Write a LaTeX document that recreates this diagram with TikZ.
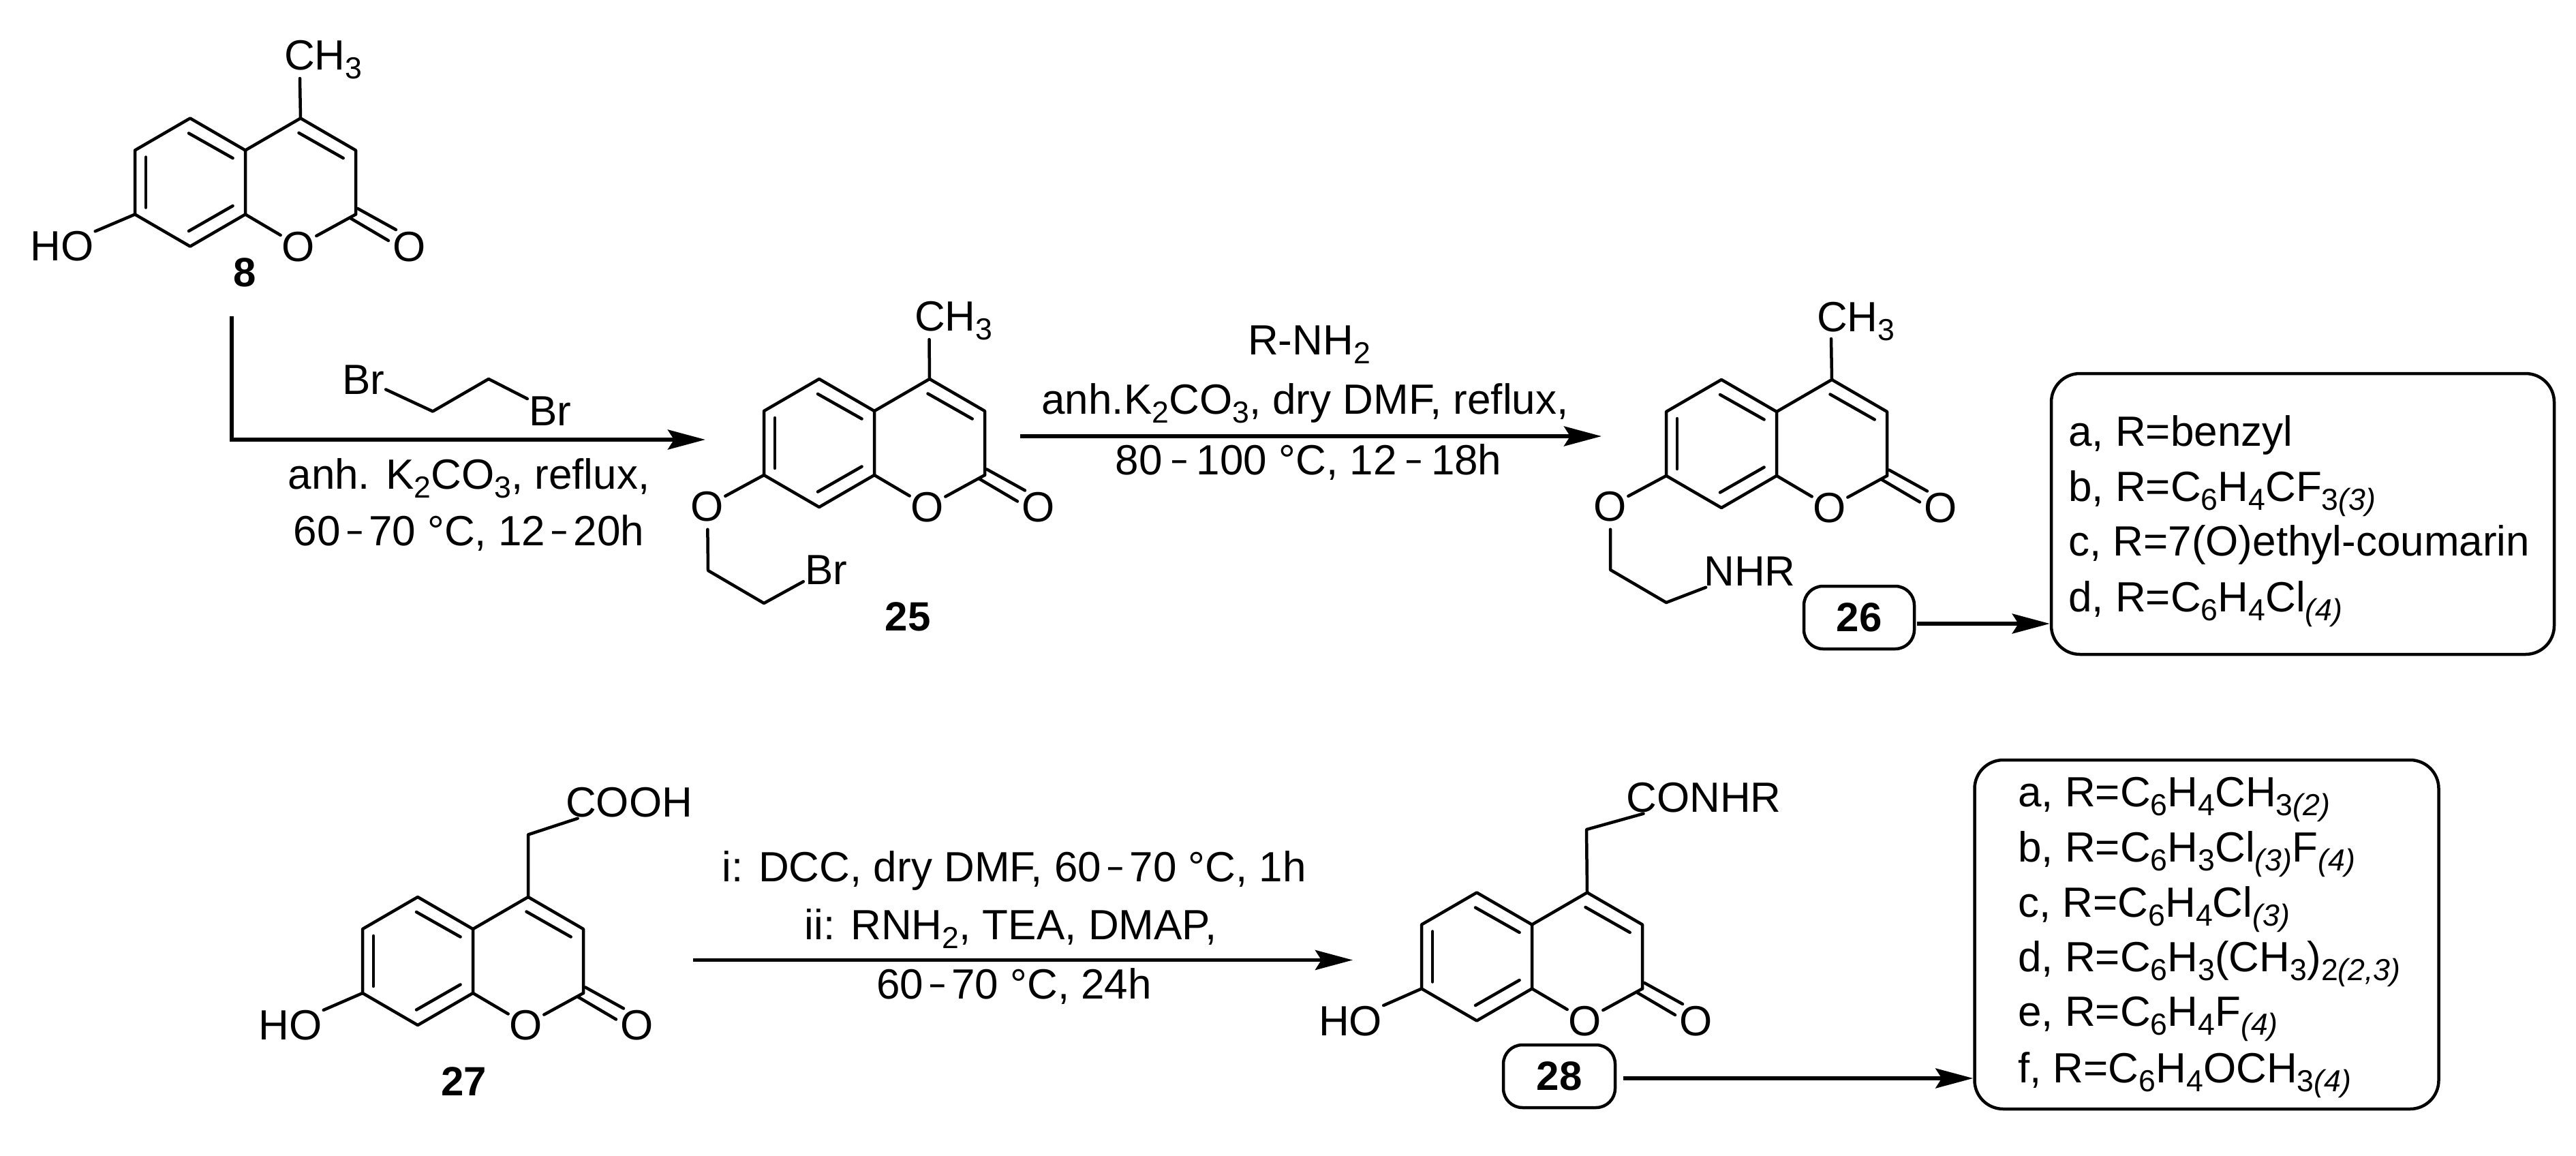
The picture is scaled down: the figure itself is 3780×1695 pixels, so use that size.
\documentclass[tikz,border=0pt]{standalone}
\usepackage{fontspec}
\setmainfont{Liberation Sans}
\usetikzlibrary{arrows.meta,calc}
\newcommand{\sbs}[1]{\raisebox{-.22em}{\scalebox{.72}{#1}}}
\newcommand{\dsh}{\,\raisebox{.04em}{\scalebox{.6}[1]{–}}\,}
\newcommand{\wdsh}{\hspace{.24em}\raisebox{.04em}{\scalebox{.6}[1]{–}}\hspace{.24em}}
\newcommand{\coumarin}[3]{%
 \begin{scope}[shift={(#2,#3)}]
  \coordinate (#1-C5) at (81,0);
  \coordinate (#1-C6) at (0,47);
  \coordinate (#1-C4a) at (162,47);
  \coordinate (#1-C7) at (0,141);
  \coordinate (#1-C8) at (81,188);
  \coordinate (#1-C8a) at (162,141);
  \coordinate (#1-C4) at (243,0);
  \coordinate (#1-C3) at (324,47);
  \coordinate (#1-C2) at (324,141);
  \node[atom] (#1-O1) at (240,187) {O};
  \node[atom] (#1-Oc) at (403,187) {O};
  \draw[bond] (#1-C5) -- (#1-C6) -- (#1-C7) -- (#1-C8) -- (#1-C8a) -- (#1-C4a) -- cycle;
  \draw[bond] (#1-C4a) -- (#1-C4) -- (#1-C3) -- (#1-C2);
  \draw[bond] (#1-C8a) -- (#1-O1) -- (#1-C2);
  \draw[bond] (79,22) -- (143.6,58.5);
  \draw[bond] (16,57) -- (16,131);
  \draw[bond] (79,165.5) -- (143.6,128.5);
  \draw[bond] (240.5,21.5) -- (305.7,58.5);
  \draw[bond] (327,132.5) -- (383,163.5);
  \draw[bond] (316,146.5) -- (372,179.5);
 \end{scope}}
\tikzset{
 bond/.style={line width=4.5pt,line cap=round,line join=round,black},
 arr/.style={line width=5.5pt,black,-{Stealth[length=55pt,width=29pt,inset=9pt]}},
 atom/.style={font=\fontsize{62}{62}\selectfont,inner sep=2pt,text height=45pt,text depth=0pt},
 lbl/.style={font=\fontsize{62}{62}\selectfont,inner sep=0pt,anchor=base west},
 rgt/.style={font=\fontsize{62}{62}\selectfont,inner sep=0pt,anchor=base},
 num/.style={font=\bfseries\fontsize{60}{60}\selectfont,inner sep=0pt,anchor=center},
 listbox/.style={draw,line width=4.5pt,rounded corners=42pt,inner sep=0pt},
 numbox/.style={draw,line width=4.5pt,rounded corners=28pt,inner sep=0pt,font=\bfseries\fontsize{60}{60}\selectfont},
}
\begin{document}
\begin{tikzpicture}[x=1pt,y=-1pt]
\useasboundingbox (0,0) rectangle (3780,1695);
% 8
\coumarin{m8}{198}{173.5}
\node[lbl] (m8-Me) at (417,102) {CH\sbs{3}};
\coordinate (m8-t) at (440,115);
\draw[bond] (m8-C4) -- (m8-t);
\node[atom] (m8-HO) at (91,360) {HO};
\draw[bond] (m8-C7) -- (m8-HO);
\node[num] (n8) at (359,400) {8};
% dibromoethane
\node[atom] (br1) at (533,556) {Br};
\node[atom] (br2) at (807,602) {Br};
\coordinate (e1) at (635,603.5);
\coordinate (e2) at (717,556);
\draw[bond] (br1) -- (e1) -- (e2) -- (br2);
% arrow 1
\coordinate (a1s) at (340,464);
\coordinate (a1c) at (340,645);
\coordinate (a1e) at (1035,645);
\draw[arr] (a1s) -- (a1c) -- (a1e);
\node[rgt] (t1a) at (688,717) {anh. K\sbs{2}CO\sbs{3}, reflux,};
\node[rgt] (t1b) at (688,800) {60\dsh 70 °C, 12\dsh 20h};
% 25
\coumarin{m25}{1121}{556}
\node[lbl] (m25-Me) at (1342,485) {CH\sbs{3}};
\coordinate (m25-t) at (1363.5,498);
\draw[bond] (m25-C4) -- (m25-t);
\node[atom] (m25-O7) at (1038,742) {O};
\draw[bond] (m25-C7) -- (m25-O7);
\coordinate (m25-a) at (1039,837);
\coordinate (m25-b) at (1121,885);
\node[atom] (m25-Br) at (1212,835) {Br};
\draw[bond,shorten <=10pt] (m25-O7) -- (m25-a) -- (m25-b) -- (m25-Br);
\node[num] (n25) at (1332,905) {25};
% arrow 2
\coordinate (a2s) at (1497,640);
\coordinate (a2e) at (2350,640);
\draw[arr] (a2s) -- (a2e);
\node[rgt] (t2a) at (1921,520) {R-NH\sbs{2}};
\node[rgt] (t2b) at (1915,607) {anh.K\sbs{2}CO\sbs{3}, dry DMF, reflux,};
\node[rgt] (t2c) at (1920,696) {80\wdsh 100 °C, 12\wdsh 18h};
% 26
\coumarin{m26}{2445}{557}
\node[lbl] (m26-Me) at (2666,486) {CH\sbs{3}};
\coordinate (m26-t) at (2687,497);
\draw[bond] (m26-C4) -- (m26-t);
\node[atom] (m26-O7) at (2363,742) {O};
\draw[bond] (m26-C7) -- (m26-O7);
\coordinate (m26-a) at (2363,836);
\coordinate (m26-b) at (2445,884);
\node[atom] (m26-N) at (2567.5,837) {NHR};
\draw[bond,shorten <=10pt] (m26-O7) -- (m26-a) -- (m26-b) -- (m26-N);
\node[numbox,minimum width=162pt,minimum height=92pt] (n26) at (2728,906) {26};
\node[listbox,minimum width=738pt,minimum height=412pt] (l26) at (3379,754) {};
\draw[arr] ([yshift=-9pt,xshift=2pt]n26.east) -- ([yshift=-9pt]n26.east -| l26.west);
\node[lbl] (l26a) at (3035,654) {a, R=benzyl};
\node[lbl] (l26b) at (3035,735) {b, R=C\sbs{6}H\sbs{4}CF\sbs{3\textit{(3)}}};
\node[lbl] (l26c) at (3035,815) {c, R=7(O)ethyl-coumarin};
\node[lbl] (l26d) at (3035,897) {d, R=C\sbs{6}H\sbs{4}Cl\sbs{\textit{(4)}}};
% 27
\coumarin{m27}{532}{1316}
\coordinate (m27-a) at (775,1224.5);
\node[atom] (m27-R) at (923,1176) {COOH};
\draw[bond] (m27-C4) -- (m27-a) -- (m27-R);
\node[atom] (m27-HO) at (426,1503) {HO};
\draw[bond] (m27-C7) -- (m27-HO);
\node[num] (n27) at (681,1587) {27};
% arrow 3
\coordinate (a3s) at (1017,1408.5);
\coordinate (a3e) at (1985,1408.5);
\draw[arr] (a3s) -- (a3e);
\node[rgt] (t3a) at (1488,1293) {i: DCC, dry DMF, 60\dsh 70 °C, 1h};
\node[rgt] (t3b) at (1483,1378) {ii: RNH\sbs{2}, TEA, DMAP,};
\node[rgt] (t3c) at (1488,1465) {60\dsh 70 °C, 24h};
% 28
\coumarin{m28}{2086}{1309.5}
\coordinate (m28-a) at (2328,1217);
\node[atom] (m28-R) at (2500,1169) {CONHR};
\draw[bond] (m28-C4) -- (m28-a) -- (m28-R);
\node[atom] (m28-HO) at (1981.5,1496.5) {HO};
\draw[bond] (m28-C7) -- (m28-HO);
\node[numbox,minimum width=164pt,minimum height=92pt] (n28) at (2288,1579) {28};
\node[listbox,minimum width=681pt,minimum height=512pt] (l28) at (3238,1371) {};
\draw[arr] ([yshift=-3pt,xshift=10pt]n28.east) -- ([yshift=-3pt]n28.east -| l28.west);
\node[lbl] (l28a) at (2961,1183) {a, R=C\sbs{6}H\sbs{4}CH\sbs{3\textit{(2)}}};
\node[lbl] (l28b) at (2961,1264) {b, R=C\sbs{6}H\sbs{3}Cl\sbs{\textit{(3)}}F\sbs{\textit{(4)}}};
\node[lbl] (l28c) at (2961,1345) {c, R=C\sbs{6}H\sbs{4}Cl\sbs{\textit{(3)}}};
\node[lbl] (l28d) at (2961,1425) {d, R=C\sbs{6}H\sbs{3}(CH\sbs{3})\sbs{2\textit{(2,3)}}};
\node[lbl] (l28e) at (2961,1505) {e, R=C\sbs{6}H\sbs{4}F\sbs{\textit{(4)}}};
\node[lbl] (l28f) at (2961,1588) {f, R=C\sbs{6}H\sbs{4}OCH\sbs{3\textit{(4)}}};
\end{tikzpicture}
\end{document}
